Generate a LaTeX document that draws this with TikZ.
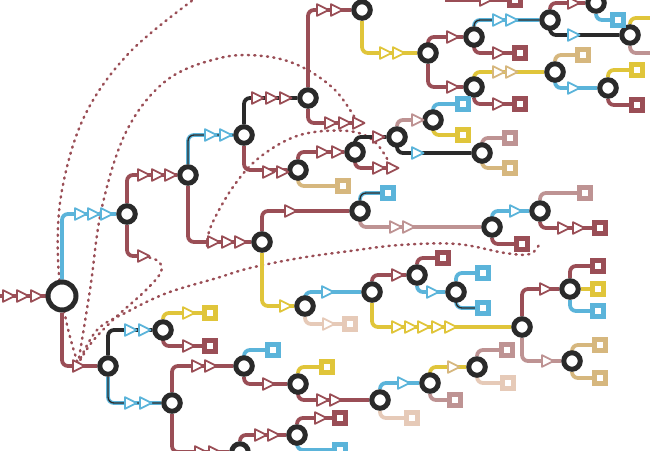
\documentclass[tikz,border=0pt]{standalone}
\definecolor{mar}{HTML}{9A4E56}
\definecolor{blu}{HTML}{5BB4DA}
\definecolor{yel}{HTML}{E0C53A}
\definecolor{drk}{HTML}{2A2A2A}
\definecolor{pnk}{HTML}{BE9393}
\definecolor{bei}{HTML}{E6CAB8}
\definecolor{tan}{HTML}{D6B77E}
\pgfdeclarelayer{bg}
\pgfsetlayers{bg,main}
\newcommand\tris[3]{\foreach \xx in {#2} {\pic[draw=#1] at (\xx,#3) {tri};}}
\begin{document}
\begin{tikzpicture}[x=1pt,y=-1pt,
 nd/.style={circle,draw=drk,line width=5pt,fill=white,minimum size=16.5pt,inner sep=0pt},
 rootnd/.style={nd,minimum size=28pt,line width=5pt},
 leaf/.style={rectangle,draw=#1,line width=5pt,fill=white,minimum size=11pt,inner sep=0pt},
 ln/.style={draw=#1,line width=3.8pt,rounded corners=6pt},
 bd/.style={draw=blu,line width=3.8pt,rounded corners=6pt,postaction={draw=drk,line width=1.3pt}},
 dotl/.style={draw=mar,line width=2.5pt,dash pattern=on 1.2pt off 5.2pt,line cap=round},
 tri/.pic={\path[pic actions,fill=white,line width=1.8pt,line join=round] (-5,-5.8)--(6.5,0)--(-5,5.8)--cycle;}
]
\useasboundingbox (0,0) rectangle (650,450);
% inner nodes
\node[rootnd] (R) at (62,296) {};
\node[nd] (A) at (127,214) {};
\node[nd] (B) at (108,366) {};
\node[nd] (C) at (188,175) {};
\node[nd] (D) at (244,135) {};
\node[nd] (E) at (262,242) {};
\node[nd] (F) at (308,98) {};
\node[nd] (G) at (298,170) {};
\node[nd] (H) at (362,10) {};
\node[nd] (J) at (428,53) {};
\node[nd] (K) at (474,37) {};
\node[nd] (L) at (474,87) {};
\node[nd] (M) at (550,20) {};
\node[nd] (N) at (596,3) {};
\node[nd] (O) at (630,35) {};
\node[nd] (P) at (555,72) {};
\node[nd] (Q) at (608,88) {};
\node[nd] (I) at (355,152) {};
\node[nd] (T) at (397,137) {};
\node[nd] (S) at (433,120) {};
\node[nd] (U) at (482,153) {};
\node[nd] (V) at (360,211) {};
\node[nd] (W) at (492,227) {};
\node[nd] (X) at (540,211) {};
\node[nd] (Z) at (305,306) {};
\node[nd] (AA) at (372,292) {};
\node[nd] (AB) at (417,275) {};
\node[nd] (AC) at (522,327) {};
\node[nd] (AD) at (456,292) {};
\node[nd] (AE) at (570,289) {};
\node[nd] (AF) at (572,361) {};
\node[nd] (BH) at (163,330) {};
\node[nd] (BE) at (172,403) {};
\node[nd] (BI) at (244,366) {};
\node[nd] (BA) at (298,384) {};
\node[nd] (BB) at (380,400) {};
\node[nd] (BC) at (430,383) {};
\node[nd] (BD) at (477,367) {};
\node[nd] (BG) at (240,452) {};
\node[nd] (BF) at (297,435) {};
% leaves
\node[leaf=mar] (k1) at (520,53) {};
\node[leaf=blu] (n1) at (618,20) {};
\node[leaf=mar] (l1) at (520,104) {};
\node[leaf=tan] (p1) at (583,55) {};
\node[leaf=yel] (q1) at (637,70) {};
\node[leaf=mar] (q2) at (637,105) {};
\node[leaf=tan] (g1) at (343,186) {};
\node[leaf=blu] (s1) at (463,104) {};
\node[leaf=yel] (s2) at (463,135) {};
\node[leaf=pnk] (u1) at (510,138) {};
\node[leaf=tan] (u2) at (510,168) {};
\node[leaf=blu] (v1) at (388,193) {};
\node[leaf=mar] (w1) at (522,244) {};
\node[leaf=pnk] (x1) at (585,193) {};
\node[leaf=mar] (x2) at (600,228) {};
\node[leaf=bei] (z1) at (350,324) {};
\node[leaf=mar] (ab1) at (443,258) {};
\node[leaf=blu] (ad1) at (483,273) {};
\node[leaf=blu] (ad2) at (483,308) {};
\node[leaf=mar] (ae1) at (598,266) {};
\node[leaf=yel] (ae2) at (598,289) {};
\node[leaf=blu] (ae3) at (598,311) {};
\node[leaf=tan] (af1) at (600,345) {};
\node[leaf=tan] (af2) at (600,378) {};
\node[leaf=yel] (bh1) at (210,313) {};
\node[leaf=mar] (bh2) at (210,346) {};
\node[leaf=blu] (bi1) at (273,350) {};
\node[leaf=yel] (ba1) at (327,367) {};
\node[leaf=bei] (bb1) at (412,418) {};
\node[leaf=pnk] (bc1) at (455,400) {};
\node[leaf=pnk] (bd1) at (507,350) {};
\node[leaf=bei] (bd2) at (508,383) {};
\node[leaf=mar] (bf1) at (340,418) {};
\node[leaf=blu] (bf2) at (340,450) {};
\node[leaf=mar] (tp1) at (515,0) {};
% free ends
\coordinate (in0) at (-5,296);
\coordinate (ea) at (143,256);
\coordinate (eb) at (358,123);
\coordinate (ec) at (392,168);
\coordinate (o1) at (656,18);
\coordinate (o2) at (656,53);
\coordinate (tp0) at (445,0);
\coordinate (cv) at (78,364);
\begin{pgfonlayer}{bg}
% dotted transfers
\draw[dotl] plot[smooth,tension=0.6] coordinates {(197,-3) (130,52) (85,115) (62,190) (58,260) (66,320) (cv)};
\draw[dotl] plot[smooth,tension=0.6] coordinates {(cv) (90,290) (102,207) (127,130) (167,80) (220,58) (263,56) (300,66) (335,90) (eb)};
\draw[dotl] plot[smooth,tension=0.6] coordinates {(207,246) (211,226) (233,187) (260,157) (300,135) (348,131) (375,142) (ec)};
\draw[dotl] plot[smooth,tension=0.6] coordinates {(ea) (158,261) (161,272) (145,291) (115,318) (92,342) (cv)};
\draw[dotl] plot[smooth,tension=0.6] coordinates {(cv) (97,330) (127,312) (167,293) (217,278) (250,268) (300,258) (350,251) (400,245) (457,244) (505,253) (530,254) (540,243)};
% edges
\draw[ln=mar] (in0) -- (R);
\draw[ln=blu] (R) |- (A);
\draw[ln=mar] (R) |- (B);
\draw[ln=mar] (A) |- (C);
\draw[ln=mar] (A) |- (ea);
\draw[bd] (C) |- (D);
\draw[ln=mar] (C) |- (E);
\draw[ln=drk] (D) |- (F);
\draw[ln=mar] (D) |- (G);
\draw[ln=mar] (F) |- (H);
\draw[ln=mar] (F) |- (eb);
\draw[ln=yel] (H) |- (J);
\draw[ln=mar] (J) |- (K);
\draw[ln=mar] (J) |- (L);
\draw[bd] (K) |- (M);
\draw[ln=mar] (K) |- (k1);
\draw[ln=mar] (M) |- (N);
\draw[ln=drk] (M) |- (O);
\draw[ln=blu] (N) |- (n1);
\draw[ln=yel] (O) |- (o1);
\draw[ln=pnk] (O) |- (o2);
\draw[ln=yel] (L) |- (P);
\draw[ln=mar] (L) |- (l1);
\draw[ln=tan] (P) |- (p1);
\draw[ln=blu] (P) |- (Q);
\draw[ln=yel] (Q) |- (q1);
\draw[ln=mar] (Q) |- (q2);
\draw[ln=mar] (G) |- (I);
\draw[ln=tan] (G) |- (g1);
\draw[ln=drk] (I) |- (T);
\draw[ln=mar] (I) |- (ec);
\draw[ln=pnk] (T) |- (S);
\draw[ln=drk] (T) |- (U);
\draw[ln=blu] (S) |- (s1);
\draw[ln=yel] (S) |- (s2);
\draw[ln=pnk] (U) |- (u1);
\draw[ln=tan] (U) |- (u2);
\draw[ln=mar] (E) |- (V);
\draw[ln=yel] (E) |- (Z);
\draw[bd] (V) |- (v1);
\draw[ln=pnk] (V) |- (W);
\draw[ln=blu] (W) |- (X);
\draw[ln=mar] (W) |- (w1);
\draw[ln=pnk] (X) |- (x1);
\draw[ln=mar] (X) |- (x2);
\draw[ln=blu] (Z) |- (AA);
\draw[ln=bei] (Z) |- (z1);
\draw[ln=mar] (AA) |- (AB);
\draw[ln=yel] (AA) |- (AC);
\draw[ln=mar] (AB) |- (ab1);
\draw[ln=blu] (AB) |- (AD);
\draw[ln=blu] (AD) |- (ad1);
\draw[bd] (AD) |- (ad2);
\draw[ln=mar] (AC) |- (AE);
\draw[ln=pnk] (AC) |- (AF);
\draw[ln=mar] (AE) |- (ae1);
\draw[ln=yel] (AE) -- (ae2);
\draw[ln=blu] (AE) |- (ae3);
\draw[ln=tan] (AF) |- (af1);
\draw[ln=tan] (AF) |- (af2);
\draw[ln=drk] (B) |- (BH);
\draw[bd] (B) |- (BE);
\draw[ln=yel] (BH) |- (bh1);
\draw[ln=mar] (BH) |- (bh2);
\draw[ln=mar] (BE) |- (BI);
\draw[ln=mar] (BE) |- (BG);
\draw[ln=blu] (BI) |- (bi1);
\draw[ln=mar] (BI) |- (BA);
\draw[ln=yel] (BA) |- (ba1);
\draw[ln=mar] (BA) |- (BB);
\draw[ln=blu] (BB) |- (BC);
\draw[ln=bei] (BB) |- (bb1);
\draw[ln=yel] (BC) |- (BD);
\draw[ln=pnk] (BC) |- (bc1);
\draw[ln=pnk] (BD) |- (bd1);
\draw[ln=bei] (BD) |- (bd2);
\draw[ln=mar] (BG) |- (BF);
\draw[ln=mar] (BF) |- (bf1);
\draw[ln=blu] (BF) |- (bf2);
\draw[ln=mar] (tp0) -- (tp1);
\end{pgfonlayer}
% arrow markers
\tris{mar}{8,22,36}{296}
\tris{blu}{80,93,106}{214}
\tris{mar}{78}{366}
\tris{mar}{143,157,170}{175}
\tris{mar}{143}{256}
\tris{blu}{210,225}{135}
\tris{mar}{213,227,240}{242}
\tris{mar}{257,271,285}{98}
\tris{mar}{268,282}{172}
\tris{mar}{322,336}{10}
\tris{mar}{330,344,358}{123}
\tris{yel}{385,398}{53}
\tris{mar}{452}{37}
\tris{mar}{452}{87}
\tris{blu}{498,511}{20}
\tris{mar}{498}{53}
\tris{mar}{573}{3}
\tris{blu}{573}{35}
\tris{tan}{498,511}{72}
\tris{mar}{498}{104}
\tris{blu}{573}{88}
\tris{mar}{322,337}{152}
\tris{mar}{378}{137}
\tris{mar}{378,392}{168}
\tris{pnk}{417}{120}
\tris{blu}{417}{153}
\tris{mar}{290}{211}
\tris{yel}{285}{306}
\tris{pnk}{395,408}{227}
\tris{blu}{515}{211}
\tris{mar}{563,578}{228}
\tris{blu}{327}{292}
\tris{bei}{328}{324}
\tris{mar}{397}{275}
\tris{yel}{397,410,423,437,450}{327}
\tris{blu}{432}{292}
\tris{mar}{545}{289}
\tris{pnk}{547}{361}
\tris{blu}{130,144}{330}
\tris{blu}{130,145}{403}
\tris{yel}{188}{313}
\tris{mar}{188}{346}
\tris{mar}{197,210}{366}
\tris{mar}{200,214}{452}
\tris{mar}{268}{384}
\tris{mar}{322,335}{400}
\tris{blu}{403}{383}
\tris{tan}{453}{367}
\tris{mar}{260,273}{435}
\tris{mar}{320}{418}
\tris{mar}{485}{0}
\end{tikzpicture}
\end{document}
